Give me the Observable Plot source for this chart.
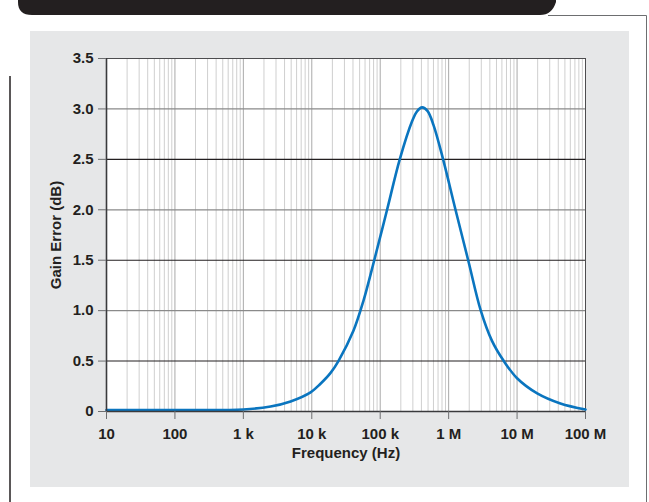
<!DOCTYPE html>
<html>
<head>
<meta charset="utf-8">
<script src="https://cdn.jsdelivr.net/npm/d3@7"></script>
<script src="https://cdn.jsdelivr.net/npm/@observablehq/plot@0.6"></script>
<style>
  html, body { margin: 0; padding: 0; background: #ffffff; }
  #wrap { position: relative; width: 649px; height: 502px; overflow: hidden; font-family: "Liberation Sans", Arial, sans-serif; }
  #deco { position: absolute; left: 0; top: 0; }
  #chart { position: absolute; left: 0; top: 0; }
</style>
</head>
<body>
<div id="wrap">
  <svg id="deco" width="649" height="502">
    <rect x="30" y="31" width="599" height="456" fill="#e6e7e8"></rect>
    <path d="M18,0 L18,2 Q18,15 32,15 L540,15 Q552,15 556,2 L556,0 Z" fill="#231f20"></path>
    <path d="M548,15.5 L646.5,15.5 L646.5,502" fill="none" stroke="#6d6e70" stroke-width="1"></path>
    <line x1="10" y1="76" x2="10" y2="502" stroke="#231f20" stroke-width="1.5"></line>
  </svg>
  <div id="chart"></div>
</div>
<script>
// Data
const frequencyHz = [10, 100, 1000, 2500, 4900, 9600, 13400, 18700, 24500, 40600, 57000, 81800, 126000, 193000, 293000, 340000, 410000, 490000, 601000, 830000, 1260000, 1930000, 2950000, 4300000, 6400000, 10000000, 19700000, 43000000, 100000000];
const gainErrorDb = [0.015, 0.015, 0.02, 0.05, 0.10, 0.19, 0.275, 0.38, 0.5, 0.8, 1.1, 1.5, 2.0, 2.5, 2.88, 2.97, 3.015, 2.98, 2.84, 2.5, 2.0, 1.5, 1.0, 0.70, 0.5, 0.33, 0.18, 0.08, 0.02];

const xTickValues = [10, 100, 1000, 10000, 100000, 1000000, 10000000, 100000000];
const xTickLabels = ["10", "100", "1 k", "10 k", "100 k", "1 M", "10 M", "100 M"];
const yTickValues = [0, 0.5, 1.0, 1.5, 2.0, 2.5, 3.0, 3.5];
const yTickLabels = ["0", "0.5", "1.0", "1.5", "2.0", "2.5", "3.0", "3.5"];
const yGridGrey = [1.0, 2.0, 3.0];
const yGridBlack = [0.5, 1.5, 2.5];

const curve = frequencyHz.map((f, i) => ({f, g: gainErrorDb[i]}));

// minor log grid (2..9 in each decade)
const minorTicks = [];
for (let d = 10; d < 1e8; d *= 10) for (let m = 2; m <= 9; m++) minorTicks.push(d * m);

const font = "bold 15px 'Liberation Sans', Arial, sans-serif";

const chart = Plot.plot({
  width: 649,
  height: 502,
  marginLeft: 106,
  marginRight: 64,
  marginTop: 58,
  marginBottom: 91,
  style: { background: "transparent", font: font, color: "#231f20" },
  x: { type: "log", domain: [10, 1e8] },
  y: { domain: [0, 3.5] },
  marks: [
    Plot.frame({ fill: "white", stroke: null }),
    Plot.ruleX(minorTicks, { stroke: "#cfcfcf", strokeWidth: 1 }),
    Plot.ruleX(xTickValues.slice(1, -1), { stroke: "#a9a9a9", strokeWidth: 1 }),
    Plot.ruleY(yGridGrey, { stroke: "#8a8a8a", strokeWidth: 1.3 }),
    Plot.ruleY(yGridBlack, { stroke: "#231f20", strokeWidth: 1.1 }),
    Plot.ruleY([3.5], { stroke: "#4d4d4f", strokeWidth: 1 }),
    Plot.ruleX([1e8], { stroke: "#4d4d4f", strokeWidth: 1 }),
    Plot.line(curve, { x: "f", y: "g", stroke: "#0a75bf", strokeWidth: 2.6, curve: "catmull-rom" }),
    Plot.ruleX([10], { stroke: "#3a3a3c", strokeWidth: 1.6 }),
    Plot.ruleY([0], { stroke: "#3a3a3c", strokeWidth: 1.6 }),
    Plot.axisX({
      ticks: xTickValues,
      tickFormat: (d) => xTickLabels[xTickValues.indexOf(d)],
      tickSize: 8,
      tickPadding: 9,
      stroke: "#6d6e70",
      fill: "#231f20",
      fontSize: 15,
      fontWeight: "bold",
      label: "Frequency (Hz)",
      labelAnchor: "center",
      labelArrow: "none",
      labelOffset: 46
    }),
    Plot.axisY({
      ticks: yTickValues,
      tickFormat: (d) => yTickLabels[yTickValues.indexOf(d)],
      tickSize: 8,
      tickPadding: 5,
      stroke: "#6d6e70",
      fill: "#231f20",
      fontSize: 15,
      fontWeight: "bold",
      label: "Gain Error (dB)",
      labelAnchor: "center",
      labelArrow: "none",
      labelOffset: 56
    })
  ]
});
document.getElementById("chart").appendChild(chart);
</script>
</body>
</html>
